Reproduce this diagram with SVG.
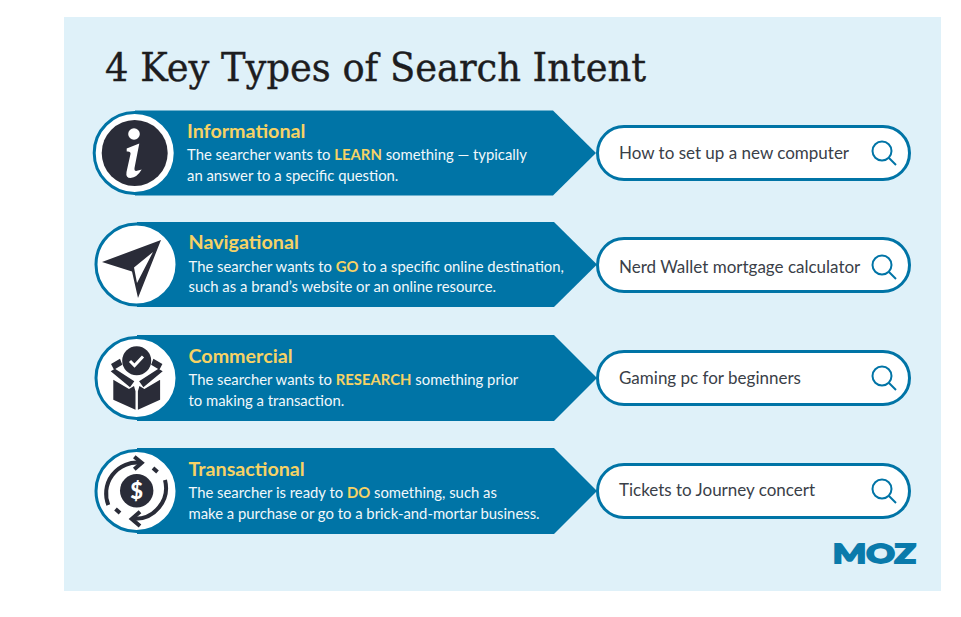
<svg xmlns="http://www.w3.org/2000/svg" width="961" height="617" viewBox="0 0 961 617">
<style>
.bar{fill:#0074a6}
.ring{fill:#fff;stroke:#0074a6;stroke-width:3}
.pill{fill:#fff;stroke:#0074a6;stroke-width:3}
.h{font:700 19.7px Lato,"Noto Sans",sans-serif;fill:#f6d265}
.d{font:400 14.85px Lato,"Noto Sans",sans-serif;fill:#f2f8fb}
.d tspan{font-weight:700;fill:#f6d265}
.q{font:400 17px Lato,"Noto Sans",sans-serif;fill:#3a4048}
.lens{fill:none;stroke:#0074a6;stroke-width:2}
.ic{fill:#2a2c38}
.arc{fill:none;stroke:#2a2c38;stroke-width:4}
</style>
<rect width="961" height="617" fill="#fff"/>
<rect x="64" y="17" width="877" height="574" fill="#dff1f9"/>
<text id="title" x="105" y="81" font-family="'DejaVu Serif',serif" font-size="38.500" fill="#1d1d1f" stroke="#1d1d1f" stroke-width="0.400" textLength="541" lengthAdjust="spacingAndGlyphs">4 Key Types of Search Intent</text>

<g id="connectors"></g>

<g id="informational">
<path class="bar" d="M135 110.500H553L596 153L553 195.500H135Z"/>
<circle class="ring" cx="134.700" cy="153" r="40.500"/>
<circle class="ic" cx="134.700" cy="153" r="33"/>
<circle cx="134" cy="134" r="5.800" fill="#fff"/>
<path fill="#fff" d="M126.700 148.500L139.300 143.500L134.500 168Q134 172 138 170.500L141.700 169.500Q137 177.500 130.500 178Q125.500 178 126.500 172L130.500 154Q131 151 126.700 151.500Z"/>
<text class="h" x="187" y="138">Informational</text>
<text class="d" x="187" y="160">The searcher wants to <tspan>LEARN</tspan> something — typically</text>
<text class="d" x="187" y="181">an answer to a specific question.</text>
</g>
<g id="search-1">
<rect class="pill" x="597.500" y="126.500" width="312" height="53" rx="26.500"/>
<text class="q" x="619" y="159">How to set up a new computer</text>
<circle class="lens" cx="882" cy="151" r="9.500"/><path class="lens" d="M889 158L896 165"/>
</g>

<g id="navigational">
<path class="bar" d="M137 222H554L597 264.500L554 307H137Z"/>
<circle class="ring" cx="136.500" cy="264.500" r="40.500"/>
<path class="ic" fill-rule="evenodd" d="M161 240L102 262L132 271.500L138 298ZM153 252L134 267.500L137 283Z"/>
<text class="h" x="188.500" y="249">Navigational</text>
<text class="d" x="188.500" y="272">The searcher wants to <tspan>GO</tspan> to a specific online destination,</text>
<text class="d" x="188.500" y="292">such as a brand’s website or an online resource.</text>
</g>
<g id="search-2">
<rect class="pill" x="597.500" y="238.500" width="312" height="53" rx="26.500"/>
<text class="q" x="619" y="273">Nerd Wallet mortgage calculator</text>
<circle class="lens" cx="882" cy="265" r="9.500"/><path class="lens" d="M889 272L896 279"/>
</g>

<g id="commercial">
<path class="bar" d="M137 335H554L597 378L554 421H137Z"/>
<circle class="ring" cx="136.500" cy="378" r="40.500"/>
<circle class="ic" cx="136.700" cy="360.700" r="14.500"/>
<path d="M130 361L134.500 365.500L143 356.500" fill="none" stroke="#fff" stroke-width="3"/>
<path class="ic" d="M111 364L120 358.700L122.300 364.700L114 369.700ZM162.400 364L153.400 358.700L151.100 364.700L159.400 369.700Z"/>
<path class="ic" d="M110.700 371.300L115 368.700L134.300 381.300L130 387.300ZM162.700 371.300L158.400 368.700L139.100 381.300L143.400 387.300Z"/>
<path class="ic" d="M113.300 379.700L129 389L134 386L135.500 391.300V409.700L113.300 399.700ZM160.100 379.700L144.400 389L139.400 386L137.900 391.300V409.700L160.100 399.700Z"/>
<text class="h" x="188.500" y="363">Commercial</text>
<text class="d" x="188.500" y="385">The searcher wants to <tspan>RESEARCH</tspan> something prior</text>
<text class="d" x="188.500" y="406">to making a transaction.</text>
</g>
<g id="search-3">
<rect class="pill" x="597.500" y="351.500" width="312" height="53" rx="26.500"/>
<text class="q" x="619" y="384">Gaming pc for beginners</text>
<circle class="lens" cx="882" cy="376" r="9.500"/><path class="lens" d="M889 383L896 390"/>
</g>

<g id="transactional">
<path class="bar" d="M137 448H554L597 491L554 534H137Z"/>
<circle class="ring" cx="136.500" cy="491" r="40.500"/>
<circle class="ic" cx="136.700" cy="490.700" r="16.700"/>
<text x="136.700" y="498.500" text-anchor="middle" font-family="Lato,sans-serif" font-weight="900" font-size="22" fill="#fff">$</text>
<path class="arc" d="M108.300 505A31 31 0 0 1 140 462.700"/>
<path class="arc" d="M165 480A31 31 0 0 1 133.300 518.700"/>
<path class="arc" d="M134.300 456.700L141.700 462.700L134.300 469.300"/>
<path class="arc" d="M140 511.700L131.700 519L140 526"/>
<path class="arc" d="M153 468L157.500 472"/>
<path class="arc" d="M115.500 509L120 513"/>
<text class="h" x="188.500" y="476">Transactional</text>
<text class="d" x="188.500" y="498">The searcher is ready to <tspan>DO</tspan> something, such as</text>
<text class="d" x="188.500" y="519">make a purchase or go to a brick-and-mortar business.</text>
</g>
<g id="search-4">
<rect class="pill" x="597.500" y="464.500" width="312" height="53" rx="26.500"/>
<text class="q" x="619" y="496">Tickets to Journey concert</text>
<circle class="lens" cx="882" cy="489" r="9.500"/><path class="lens" d="M889 496L896 503"/>
</g>

<g id="logo">
<text x="832.800" y="563" font-family="Lato,sans-serif" font-weight="900" font-size="27" fill="#0a7aab" stroke="#0a7aab" stroke-width="1.800" textLength="83" lengthAdjust="spacingAndGlyphs">MOZ</text>
</g>
</svg>
